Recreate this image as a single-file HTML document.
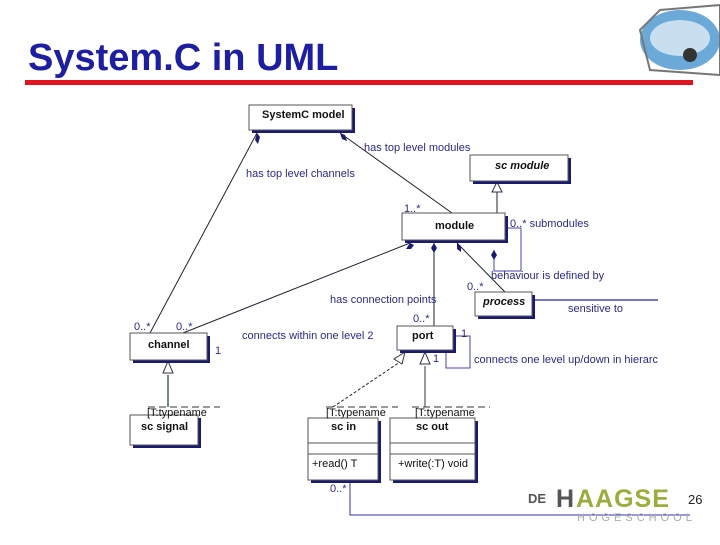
<!DOCTYPE html>
<html><head><meta charset="utf-8"><style>
body{margin:0;width:720px;height:540px;background:#fff;overflow:hidden;font-family:"Liberation Sans",sans-serif}
</style></head><body>
<svg width="720" height="540" viewBox="0 0 720 540" xmlns="http://www.w3.org/2000/svg" font-family="Liberation Sans, sans-serif">
<defs>
<marker id="dm" viewBox="0 0 10 20" refX="5" refY="0" markerWidth="5" markerHeight="10" orient="auto-start-reverse"></marker>
</defs>
<text x="28" y="70" font-size="38" font-weight="bold" fill="#1d1fa0">System.C in UML</text>
<rect x="25" y="80" width="668" height="5" fill="#e0141e"/>
<!-- car icon -->
<g>
<ellipse cx="680" cy="40" rx="40" ry="30" fill="#6aa9d8"/>
<ellipse cx="680" cy="38" rx="30" ry="18" fill="#c8dff0"/>
<path d="M640 30 L660 10 L720 5 L720 75 L650 70 Z" fill="none" stroke="#777" stroke-width="2"/>
<circle cx="690" cy="55" r="7" fill="#333"/>
</g>
<g stroke="#223" stroke-width="1" fill="none">
<!-- connectors -->
<line x1="257" y1="133" x2="150" y2="333"/>
<line x1="340" y1="133" x2="452" y2="213"/>
<line x1="497" y1="213" x2="497" y2="190"/>
<line x1="410" y1="243" x2="183" y2="333"/>
<line x1="434" y1="243" x2="434" y2="326"/>
<line x1="457" y1="243" x2="505" y2="292"/>
<polyline points="494,250 494,271 521,271 521,228 505,228" stroke="#44a"/>
<line x1="532" y1="300" x2="658" y2="300" stroke="#77b" stroke-width="2"/>
<polyline points="453,336 470,336 470,368 446,368 446,352" stroke="#44a"/>
<line x1="168" y1="375" x2="168" y2="407" stroke="#788" stroke-width="2"/>
<line x1="333" y1="407" x2="400" y2="362" stroke-dasharray="3,2"/>
<line x1="425" y1="366" x2="425" y2="407" stroke="#334"/>
<polyline points="350,483 350,515 690,515" stroke="#33a"/>
</g>
<!-- diamonds -->
<g fill="#1a1a6e">
<path d="M257 133 l3 4 l-2 7 l-3 -4z"/>
<path d="M340 133 l5 2 l2 6 l-5 -2z"/>
<path d="M410 243 l4 2 l-3 4 l-5 0z"/>
<path d="M434 243 l3 5 l-3 5 l-3 -5z"/>
<path d="M457 243 l4 3 l0 6 l-4 -3z"/>
<path d="M494 250 l3 5 l-3 5 l-3 -5z"/>
</g>
<!-- triangles -->
<g fill="#fff" stroke="#334">
<path d="M497 182 l-5 10 l10 0z"/>
<path d="M168 361 l-5 12 l10 0z"/>
<path d="M425 352 l-5 12 l10 0z"/>
<path d="M405 352 l-3 12 l-8 -5z"/>
</g>
<!-- boxes -->
<g stroke="#555" fill="#fff">
<rect x="252" y="108" width="103" height="25" fill="#1a1a6e" stroke="none"/>
<rect x="249" y="105" width="103" height="25"/>
<rect x="473" y="158" width="98" height="26" fill="#1a1a6e" stroke="none"/>
<rect x="470" y="155" width="98" height="26"/>
<rect x="405" y="216" width="103" height="27" fill="#1a1a6e" stroke="none"/>
<rect x="402" y="213" width="103" height="27"/>
<rect x="478" y="295" width="57" height="24" fill="#1a1a6e" stroke="none"/>
<rect x="475" y="292" width="57" height="24"/>
<rect x="133" y="336" width="77" height="27" fill="#1a1a6e" stroke="none"/>
<rect x="130" y="333" width="77" height="27"/>
<rect x="400" y="329" width="56" height="24" fill="#1a1a6e" stroke="none"/>
<rect x="397" y="326" width="56" height="24"/>
<rect x="133" y="418" width="68" height="30" fill="#1a1a6e" stroke="none"/>
<rect x="130" y="415" width="68" height="30"/>
<rect x="311" y="421" width="70" height="62" fill="#1a1a6e" stroke="none"/>
<rect x="308" y="418" width="70" height="62"/>
<line x1="308" y1="443" x2="378" y2="443"/><line x1="308" y1="454" x2="378" y2="454"/>
<rect x="393" y="421" width="85" height="62" fill="#1a1a6e" stroke="none"/>
<rect x="390" y="418" width="85" height="62"/>
<line x1="390" y1="443" x2="475" y2="443"/><line x1="390" y1="454" x2="475" y2="454"/>
</g>
<g stroke="#333" stroke-dasharray="7,4">
<line x1="148" y1="407" x2="220" y2="407"/>
<line x1="326" y1="407" x2="398" y2="407"/>
<line x1="412" y1="407" x2="490" y2="407"/>
</g>
<g font-size="11" fill="#111" font-weight="bold">
<text x="262" y="118">SystemC model</text>
<text x="495" y="169" font-style="italic">sc module</text>
<text x="435" y="229">module</text>
<text x="483" y="305" font-style="italic">process</text>
<text x="148" y="348">channel</text>
<text x="412" y="339">port</text>
<text x="141" y="430">sc signal</text>
<text x="331" y="430">sc in</text>
<text x="416" y="430">sc out</text>
</g>
<g font-size="11" fill="#111">
<text x="147" y="416">[T:typename</text>
<text x="326" y="416">[T:typename</text>
<text x="415" y="416">[T:typename</text>
<text x="312" y="467">+read() T</text>
<text x="398" y="467">+write(:T) void</text>
</g>
<g font-size="11" fill="#2a2a8a">
<text x="364" y="151">has top level modules</text>
<text x="246" y="177">has top level channels</text>
<text x="404" y="212">1..*</text>
<text x="510" y="227">0..* submodules</text>
<text x="491" y="279">behaviour is defined by</text>
<text x="467" y="290">0..*</text>
<text x="330" y="303">has connection points</text>
<text x="413" y="322">0..*</text>
<text x="568" y="312">sensitive to</text>
<text x="134" y="330">0..*</text>
<text x="176" y="330">0..*</text>
<text x="242" y="339">connects within one level  2</text>
<text x="461" y="337">1</text>
<text x="215" y="354">1</text>
<text x="433" y="362">1</text>
<text x="474" y="363">connects one level up/down in hierarc</text>
<text x="330" y="492">0..*</text>
</g>
<text x="528" y="503" font-size="13" font-weight="bold" fill="#555">DE</text>
<text x="556" y="507" font-size="25" font-weight="bold" fill="#555" letter-spacing="1">H</text>
<text x="576" y="507" font-size="25" font-weight="bold" fill="#9aae3c" letter-spacing="1">AAGSE</text>
<text x="577" y="521" font-size="11" fill="#aaa" letter-spacing="4">HOGESCHOOL</text>
<text x="688" y="504" font-size="13" fill="#222">26</text>
</svg>
</body></html>
